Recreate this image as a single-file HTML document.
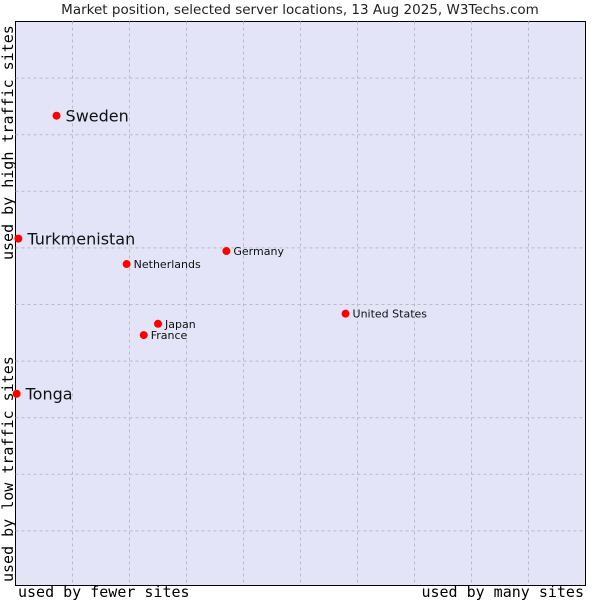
<!DOCTYPE html>
<html><head><meta charset="utf-8"><style>
body{margin:0;background:#fff;width:600px;height:600px;overflow:hidden}
text{font-family:"DejaVu Sans","Liberation Sans",sans-serif}
.mono{font-family:"DejaVu Sans Mono","Liberation Mono",monospace}
</style></head><body>
<svg id="c" width="600" height="600">
<text x="300" y="14" text-anchor="middle" font-size="13.5" fill="#222">Market position, selected server locations, 13 Aug 2025, W3Techs.com</text>
<rect x="15.5" y="21.5" width="570" height="564" fill="#e3e4f8" stroke="#000"/>
<g id="grid"></g>
<g id="pts"></g>
<text class="mono" x="18" y="597" font-size="15" fill="#000">used by fewer sites</text>
<text class="mono" x="584" y="597" font-size="15" fill="#000" text-anchor="end">used by many sites</text>
<text class="mono" transform="translate(13,582) rotate(-90)" font-size="15" fill="#000">used by low traffic sites</text>
<text class="mono" transform="translate(13,260) rotate(-90)" font-size="15" fill="#000">used by high traffic sites</text>
</svg>
<script>
const names=["Sweden","Turkmenistan","Tonga","Germany","Netherlands","United States","Japan","France"];
const xVals=[7.2,0.5,0.2,37,19.5,57.9,25,22.5];
const yVals=[83.3,61.5,34,59.3,57,48.2,46.4,44.4];
const big=[true,true,true,false,false,false,false,false];
const L=15.5,T=21.5,W=570,H=564;
const xs=v=>L+v/100*W, ys=v=>T+H-v/100*H;
const ns="http://www.w3.org/2000/svg";
const g=document.getElementById('grid'),p=document.getElementById('pts');
for(let i=1;i<10;i++){
 const x=L+57*i, y=T+56.6*i;
 let a=document.createElementNS(ns,'line');
 a.setAttribute('x1',x);a.setAttribute('x2',x);a.setAttribute('y1',T);a.setAttribute('y2',T+H);
 a.setAttribute('stroke','#bbb');a.setAttribute('stroke-dasharray','3,3');
 
 
 g.appendChild(a);
 let b=document.createElementNS(ns,'line');
 b.setAttribute('x1',L);b.setAttribute('x2',L+W);b.setAttribute('y1',y);b.setAttribute('y2',y);
 b.setAttribute('stroke','#bbb');b.setAttribute('stroke-dasharray','3,3');
 
 
 g.appendChild(b);
}
names.forEach((n,i)=>{
 const cx=xs(xVals[i]),cy=ys(yVals[i]);
 const d=document.createElementNS(ns,'circle');
 d.setAttribute('cx',cx);d.setAttribute('cy',cy);d.setAttribute('r',4);d.setAttribute('fill','#f00');
 
 
 p.appendChild(d);
 const t=document.createElementNS(ns,'text');
 t.setAttribute('x',cx+(big[i]?9:7));t.setAttribute('y',cy+(big[i]?6:4));
 t.setAttribute('font-size',big[i]?16:11);t.setAttribute('fill','#111');
 t.textContent=n;
 
 
 p.appendChild(t);
});
</script>
</body></html>
